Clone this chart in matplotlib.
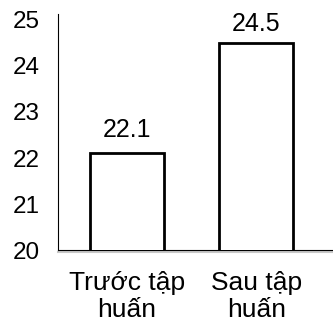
import matplotlib.pyplot as plt
from matplotlib.transforms import offset_copy

# Dữ liệu
nhom = ["Trước tập\nhuấn", "Sau tập\nhuấn"]
gia_tri = [22.1, 24.5]
nhan_y = [20, 21, 22, 23, 24, 25]

plt.rcParams['font.family'] = ['Liberation Sans', 'DejaVu Sans']

fig = plt.figure(figsize=(3.33, 3.30), dpi=100)
ax = fig.add_axes([0.174, 0.242, 0.826, 0.716])

x = list(range(len(nhom)))
ax.bar(x, gia_tri, width=0.57, bottom=0, color='white', edgecolor='black', linewidth=2, zorder=3)

# Nhãn giá trị trên cột
dem = [0.36, 0.25]
for xi, v, d in zip(x, gia_tri, dem):
    ax.text(xi, v + d, f"{v}", ha='center', va='baseline', fontsize=18)

ax.set_xlim(-0.53, 1.59)
ax.set_ylim(20, 25.13)
ax.set_yticks(nhan_y)
ax.set_xticks(x)
ax.set_xticklabels(nhom, fontsize=19, linespacing=1.15)
ax.tick_params(axis='y', length=0, pad=13, labelsize=17.5)
ax.tick_params(axis='x', length=0, pad=15)

for s in ['top', 'right']:
    ax.spines[s].set_visible(False)
ax.spines['left'].set_linewidth(0.8)
ax.spines['bottom'].set_linewidth(0.8)

# bóng mờ dưới trục hoành
tr = offset_copy(ax.transAxes, fig=fig, x=0, y=-2, units='dots')
ax.plot([0, 1], [0, 0], color='#c8c8c8', lw=1.5, transform=tr, clip_on=False, zorder=1)

fig.savefig("out.png", dpi=100)
